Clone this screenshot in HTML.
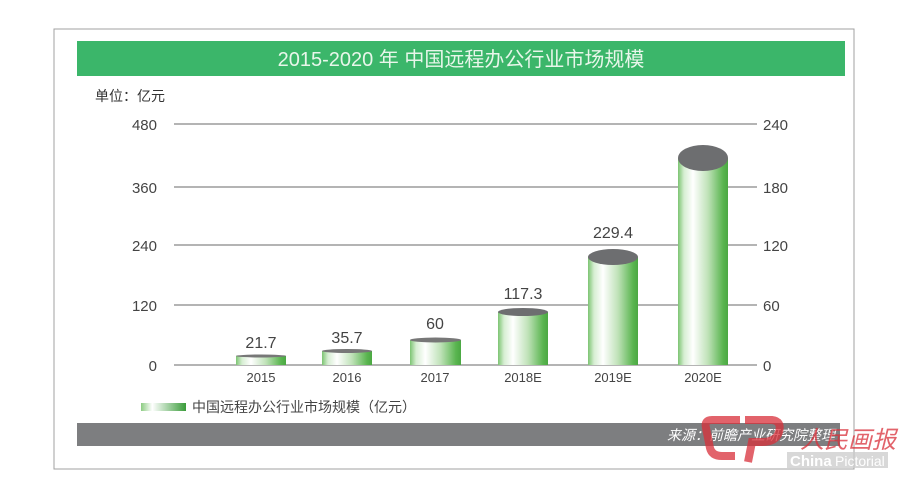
<!DOCTYPE html>
<html><head><meta charset="utf-8"><style>
body{margin:0;background:#fff;}
svg{display:block;font-family:"Liberation Sans","Noto Sans CJK SC",sans-serif;}
</style></head><body>
<svg width="900" height="488" viewBox="0 0 900 488">
<defs>
<linearGradient id="g" x1="0" x2="1" y1="0" y2="0">
<stop offset="0" stop-color="#7cc472"/><stop offset="0.12" stop-color="#d6eed2"/><stop offset="0.3" stop-color="#ffffff"/><stop offset="0.6" stop-color="#bfe2b8"/><stop offset="0.9" stop-color="#5ab550"/><stop offset="1" stop-color="#4aa842"/>
</linearGradient>
<linearGradient id="lg" x1="0" x2="1"><stop offset="0" stop-color="#8ccc82"/><stop offset="0.25" stop-color="#fff"/><stop offset="1" stop-color="#3a9c3a"/></linearGradient>
</defs>
<rect x="54" y="29" width="800" height="440" fill="#fff" stroke="#a0a0a0" stroke-width="1"/>
<rect x="77" y="41" width="768" height="35" fill="#3bb66a"/>
<text x="461" y="66" font-size="20" fill="#e8f6ea" text-anchor="middle">2015-2020 年 中国远程办公行业市场规模</text>
<text x="95" y="101" font-size="14" fill="#333">单位：亿元</text>
<g stroke="#888" stroke-width="1.2">
<line x1="174" y1="124" x2="757" y2="124"/><line x1="174" y1="187" x2="757" y2="187"/>
<line x1="174" y1="245" x2="757" y2="245"/><line x1="174" y1="305" x2="757" y2="305"/>
<line x1="174" y1="365" x2="757" y2="365"/></g>
<g font-size="15" fill="#444" text-anchor="end">
<text x="157" y="130">480</text><text x="157" y="193">360</text><text x="157" y="251">240</text><text x="157" y="311">120</text><text x="157" y="371">0</text></g>
<g font-size="15" fill="#444">
<text x="763" y="130">240</text><text x="763" y="193">180</text><text x="763" y="251">120</text><text x="763" y="311">60</text><text x="763" y="371">0</text></g>
<g>
<rect x="236" y="356" width="50" height="9" fill="url(#g)"/><ellipse cx="261" cy="356" rx="25" ry="1.5" fill="#777"/>
<rect x="322" y="351" width="50" height="14" fill="url(#g)"/><ellipse cx="347" cy="351" rx="25" ry="2" fill="#777"/>
<rect x="410" y="340" width="51" height="25" fill="url(#g)"/><ellipse cx="435.5" cy="340" rx="25.5" ry="2.5" fill="#777"/>
<rect x="498" y="312" width="50" height="53" fill="url(#g)"/><ellipse cx="523" cy="312" rx="25" ry="4" fill="#6d6e70"/>
<rect x="588" y="257" width="50" height="108" fill="url(#g)"/><ellipse cx="613" cy="257" rx="25" ry="8" fill="#6d6e70"/>
<rect x="678" y="158" width="50" height="207" fill="url(#g)"/><ellipse cx="703" cy="158" rx="25" ry="13" fill="#6d6e70"/>
</g>
<g font-size="16" fill="#444" text-anchor="middle">
<text x="261" y="348">21.7</text><text x="347" y="343">35.7</text><text x="435" y="329">60</text>
<text x="523" y="299">117.3</text><text x="613" y="238">229.4</text></g>
<g font-size="13" fill="#444" text-anchor="middle">
<text x="261" y="382">2015</text><text x="347" y="382">2016</text><text x="435" y="382">2017</text>
<text x="523" y="382">2018E</text><text x="613" y="382">2019E</text><text x="703" y="382">2020E</text></g>
<rect x="141" y="403" width="45" height="8" fill="url(#lg)"/>
<text x="192" y="412" font-size="14" fill="#444">中国远程办公行业市场规模（亿元）</text>
<rect x="77" y="423" width="763" height="23" fill="#7d7e80"/>
<text x="835" y="440" font-size="14" font-style="italic" fill="#fff" text-anchor="end">来源：前瞻产业研究院整理</text>
<g opacity="0.75">
<path d="M740 420 L712 420 Q704 420 706 428 L710 448 Q712 456 722 456 L735 456" fill="none" stroke="#d9303a" stroke-width="8"/>
<path d="M745 420 L772 420 Q782 421 779 432 Q776 442 762 442 L752 442 L748 462" fill="none" stroke="#d9303a" stroke-width="8"/>
<rect x="787" y="452" width="101" height="16" fill="#ccc"/>
<text x="790" y="466" font-size="15" font-weight="bold" fill="#fff">China</text><text x="835" y="466" font-size="14" fill="#fff">Pictorial</text>
<text x="800" y="448" font-size="24" fill="#d9303a" font-style="italic">人民画报</text>
</g>
</svg>
</body></html>
